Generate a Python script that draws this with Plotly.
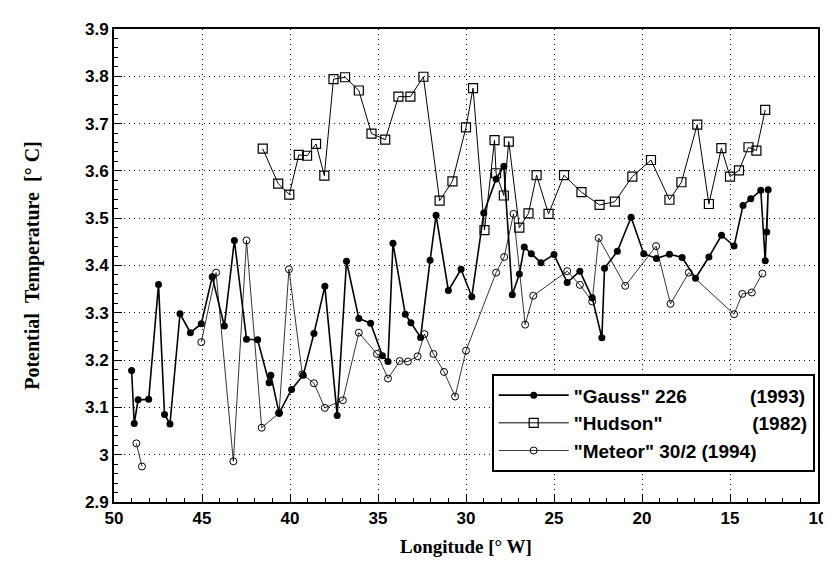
import plotly.graph_objects as go

# Longitude [deg W] and potential temperature [deg C]
gauss_lon = [49.0, 48.85, 48.63, 48.03, 47.47, 47.13, 46.82, 46.25, 45.66, 45.04,
             44.42, 43.73, 43.16, 42.47, 41.84, 41.19, 41.09, 40.62, 39.91, 39.25,
             38.64, 38.02, 37.32, 36.79, 36.09, 35.42, 34.75, 34.43, 34.15, 33.45,
             33.13, 32.58, 32.04, 31.7, 31.0, 30.28, 29.67, 28.99, 28.29, 27.85,
             27.37, 26.97, 26.69, 26.29, 25.74, 25.0, 24.25, 23.53, 22.83, 22.28,
             22.13, 21.4, 20.62, 19.9, 19.18, 18.44, 17.72, 16.96, 16.2, 15.48,
             14.77, 14.26, 13.82, 13.25, 13.0, 12.83, 12.91]
gauss_temp = [3.178, 3.066, 3.116, 3.117, 3.36, 3.085, 3.065, 3.298, 3.258, 3.277,
              3.376, 3.272, 3.453, 3.244, 3.243, 3.152, 3.168, 3.088, 3.138, 3.168,
              3.256, 3.356, 3.083, 3.409, 3.288, 3.278, 3.209, 3.197, 3.447, 3.297,
              3.279, 3.248, 3.411, 3.506, 3.347, 3.392, 3.334, 3.511, 3.583, 3.61,
              3.338, 3.382, 3.439, 3.425, 3.406, 3.423, 3.364, 3.388, 3.332, 3.247,
              3.394, 3.43, 3.502, 3.425, 3.415, 3.424, 3.417, 3.373, 3.418, 3.464,
              3.441, 3.527, 3.541, 3.559, 3.41, 3.56, 3.471]

hudson_lon = [41.55, 40.67, 40.04, 39.5, 39.03, 38.52, 38.05, 37.53, 36.87, 36.09,
              35.37, 34.59, 33.84, 33.16, 32.42, 31.5, 30.77, 30.0, 29.6, 28.95,
              28.38, 28.29, 27.85, 27.57, 26.97, 26.45, 25.99, 25.31, 24.43, 23.44,
              22.41, 21.54, 20.55, 19.49, 18.44, 17.76, 16.86, 16.2, 15.49, 15.0,
              14.49, 13.95, 13.5, 13.0]
hudson_temp = [3.647, 3.573, 3.55, 3.634, 3.632, 3.657, 3.59, 3.794, 3.798, 3.77,
               3.679, 3.666, 3.757, 3.757, 3.799, 3.537, 3.578, 3.692, 3.775, 3.475,
               3.665, 3.595, 3.548, 3.662, 3.48, 3.51, 3.591, 3.509, 3.591, 3.555,
               3.528, 3.535, 3.588, 3.623, 3.539, 3.576, 3.698, 3.53, 3.648, 3.588,
               3.601, 3.65, 3.643, 3.729]

# None breaks the line between the two separate Meteor sections
meteor_lon = [48.73, 48.41, None, 45.04, 44.2, 43.22, 42.47, 41.61, 40.62, 40.06,
              39.3, 38.64, 38.02, 37.0, 36.09, 35.06, 34.43, 33.77, 33.3, 32.75,
              32.36, 31.85, 31.25, 30.62, 30.0, 28.29, 27.83, 27.3, 26.64, 26.18,
              24.25, 23.53, 22.83, 22.46, 20.95, 19.2, 18.38, 17.34, 14.77, 14.3,
              13.76, 13.16]
meteor_temp = [3.024, 2.975, None, 3.238, 3.385, 2.986, 3.453, 3.057, 3.088, 3.392,
               3.17, 3.151, 3.099, 3.115, 3.258, 3.213, 3.161, 3.198, 3.197, 3.208,
               3.255, 3.213, 3.175, 3.123, 3.22, 3.385, 3.418, 3.509, 3.275, 3.336,
               3.388, 3.359, 3.324, 3.458, 3.357, 3.441, 3.319, 3.385, 3.297, 3.34,
               3.343, 3.383]

NB = "\u00a0"
names = [
    f'"Gauss" 226{NB * 12}(1993)',
    f'"Hudson"{NB * 17}(1982)',
    f'"Meteor" 30/2 (1994)',
]

fig = go.Figure()
fig.add_trace(go.Scatter(
    x=gauss_lon, y=gauss_temp, name=names[0], mode="lines+markers",
    line=dict(color="black", width=1.6),
    marker=dict(symbol="circle", size=7, color="black"),
))
fig.add_trace(go.Scatter(
    x=hudson_lon, y=hudson_temp, name=names[1], mode="lines+markers",
    line=dict(color="black", width=1),
    marker=dict(symbol="square-open", size=9, color="black", line=dict(width=1.2)),
))
fig.add_trace(go.Scatter(
    x=meteor_lon, y=meteor_temp, name=names[2], mode="lines+markers",
    connectgaps=False,
    line=dict(color="black", width=0.8),
    marker=dict(symbol="circle-open", size=7, color="black", line=dict(width=1)),
))

sans = "Liberation Sans, Arial, sans-serif"
serif = "Liberation Serif, Times New Roman, serif"
tick_font = dict(family=sans, size=17, color="black", weight="bold")

fig.update_layout(
    width=831, height=569,
    paper_bgcolor="white", plot_bgcolor="white",
    margin=dict(l=106, r=13, t=18, b=75),
    showlegend=True,
    legend=dict(
        x=0.5365, y=0.27, xanchor="left", yanchor="top",
        bgcolor="white", bordercolor="black", borderwidth=2,
        font=dict(family=sans, size=19, color="black", weight="bold"),
        itemwidth=70, tracegroupgap=0,
    ),
)
fig.update_xaxes(
    range=[50, 10], tick0=10, dtick=5,
    ticks="inside", ticklen=8, tickwidth=1, tickcolor="black",
    minor=dict(ticks="inside", dtick=1, ticklen=4, tickcolor="black", showgrid=False),
    showgrid=True, gridcolor="black", griddash="1px,4px", gridwidth=1.2,
    showline=True, linecolor="black", linewidth=2, mirror=True,
    zeroline=False,
    tickfont=tick_font,
    title=dict(text="Longitude [° W]", standoff=12,
               font=dict(family=serif, size=19, color="black", weight="bold")),
)
fig.update_yaxes(
    range=[2.9, 3.9], tick0=2.9, dtick=0.1,
    ticks="inside", ticklen=8, tickwidth=1, tickcolor="black",
    minor=dict(ticks="inside", dtick=0.02, ticklen=4, tickcolor="black", showgrid=False),
    showgrid=True, gridcolor="black", griddash="1px,4px", gridwidth=1.2,
    showline=True, linecolor="black", linewidth=2, mirror=True,
    zeroline=False,
    tickfont=tick_font,
    title=dict(text=f"Potential{NB * 2}Temperature{NB * 2}[° C]", standoff=40,
               font=dict(family=serif, size=20, color="black", weight="bold")),
)

fig.write_html("out.html")
